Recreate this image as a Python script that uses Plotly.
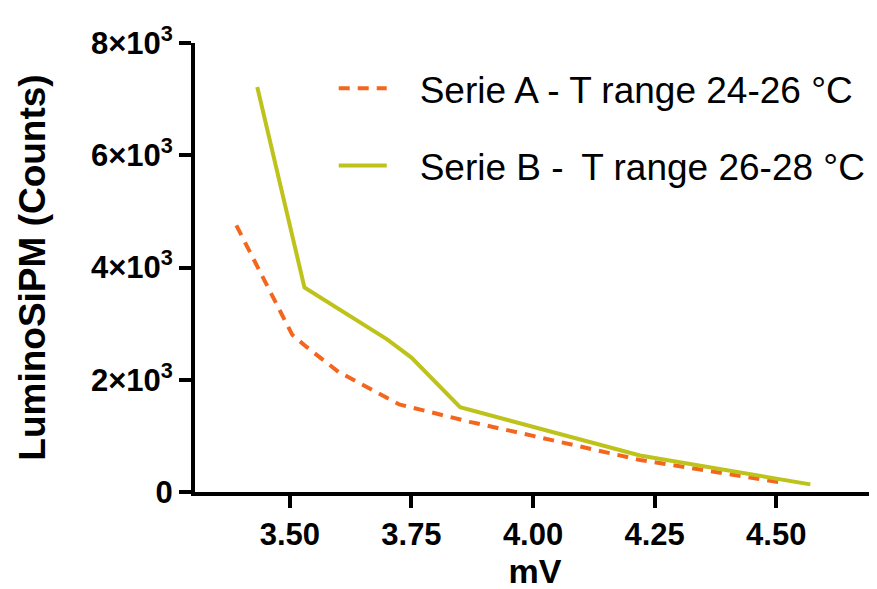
import plotly.graph_objects as go

# Data
series_a_x = [3.39, 3.505, 3.535, 3.60, 3.725, 3.87, 4.00, 4.22, 4.51]
series_a_y = [4750, 2800, 2580, 2140, 1560, 1250, 1000, 570, 170]
series_b_x = [3.433, 3.53, 3.70, 3.75, 3.85, 4.22, 4.57]
series_b_y = [7216, 3646, 2720, 2395, 1510, 650, 136]

name_a = "\u00a0\u00a0\u2009Serie A - T range 24-26 °C"
name_b = "\u00a0\u00a0\u2009Serie B - \u2009T range 26-28 °C"

x_tickvals = [3.50, 3.75, 4.00, 4.25, 4.50]
x_ticktext = ["3.50", "3.75", "4.00", "4.25", "4.50"]
y_tickvals = [0, 2000, 4000, 6000, 8000]
y_ticktext = ["0", "2×10<sup>3</sup>", "4×10<sup>3</sup>", "6×10<sup>3</sup>", "8×10<sup>3</sup>"]

FONT = "Liberation Sans, Arial, sans-serif"
ORANGE = "#f4661d"
OLIVE = "#bec31b"

fig = go.Figure()
fig.add_trace(go.Scatter(x=series_a_x, y=series_a_y, mode="lines", name=name_a,
                         legendgroup="a",
                         line=dict(color=ORANGE, width=4, dash="11px,8px")))
fig.add_trace(go.Scatter(x=series_b_x, y=series_b_y, mode="lines", name=name_b,
                         legendgroup="b",
                         line=dict(color=OLIVE, width=4)))

fig.update_layout(
    width=877, height=589,
    margin=dict(l=187, r=10, t=35, b=105, autoexpand=False),
    paper_bgcolor="white", plot_bgcolor="white",
    font=dict(family=FONT, color="black"),
    showlegend=True,
    legend=dict(x=0.204, y=0.967, xanchor="left", yanchor="top",
                font=dict(size=37, family=FONT, color="black"),
                bgcolor="rgba(0,0,0,0)", tracegroupgap=26,
                traceorder="grouped", itemwidth=48),
    xaxis=dict(range=[3.305, 4.703], showgrid=False, zeroline=False, automargin=False,
               showline=True, linecolor="black", linewidth=4,
               ticks="outside", ticklen=12, tickwidth=4, tickcolor="black",
               tickvals=x_tickvals, ticktext=x_ticktext,
               tickfont=dict(size=31, family=FONT, color="black", weight="bold"),
               title=dict(text="<b>mV</b>", font=dict(size=34, family=FONT, color="black"),
                          standoff=0)),
    yaxis=dict(range=[0, 8000], showgrid=False, zeroline=False, automargin=False,
               showline=True, linecolor="black", linewidth=4,
               ticks="outside", ticklen=12, tickwidth=4, tickcolor="black",
               tickvals=y_tickvals, ticktext=y_ticktext,
               tickfont=dict(size=31, family=FONT, color="black", weight="bold"),
               title=dict(text="<b>LuminoSiPM (Counts)</b>",
                          font=dict(size=37, family=FONT, color="black"),
                          standoff=35)),
)

fig.write_html("out.html")
